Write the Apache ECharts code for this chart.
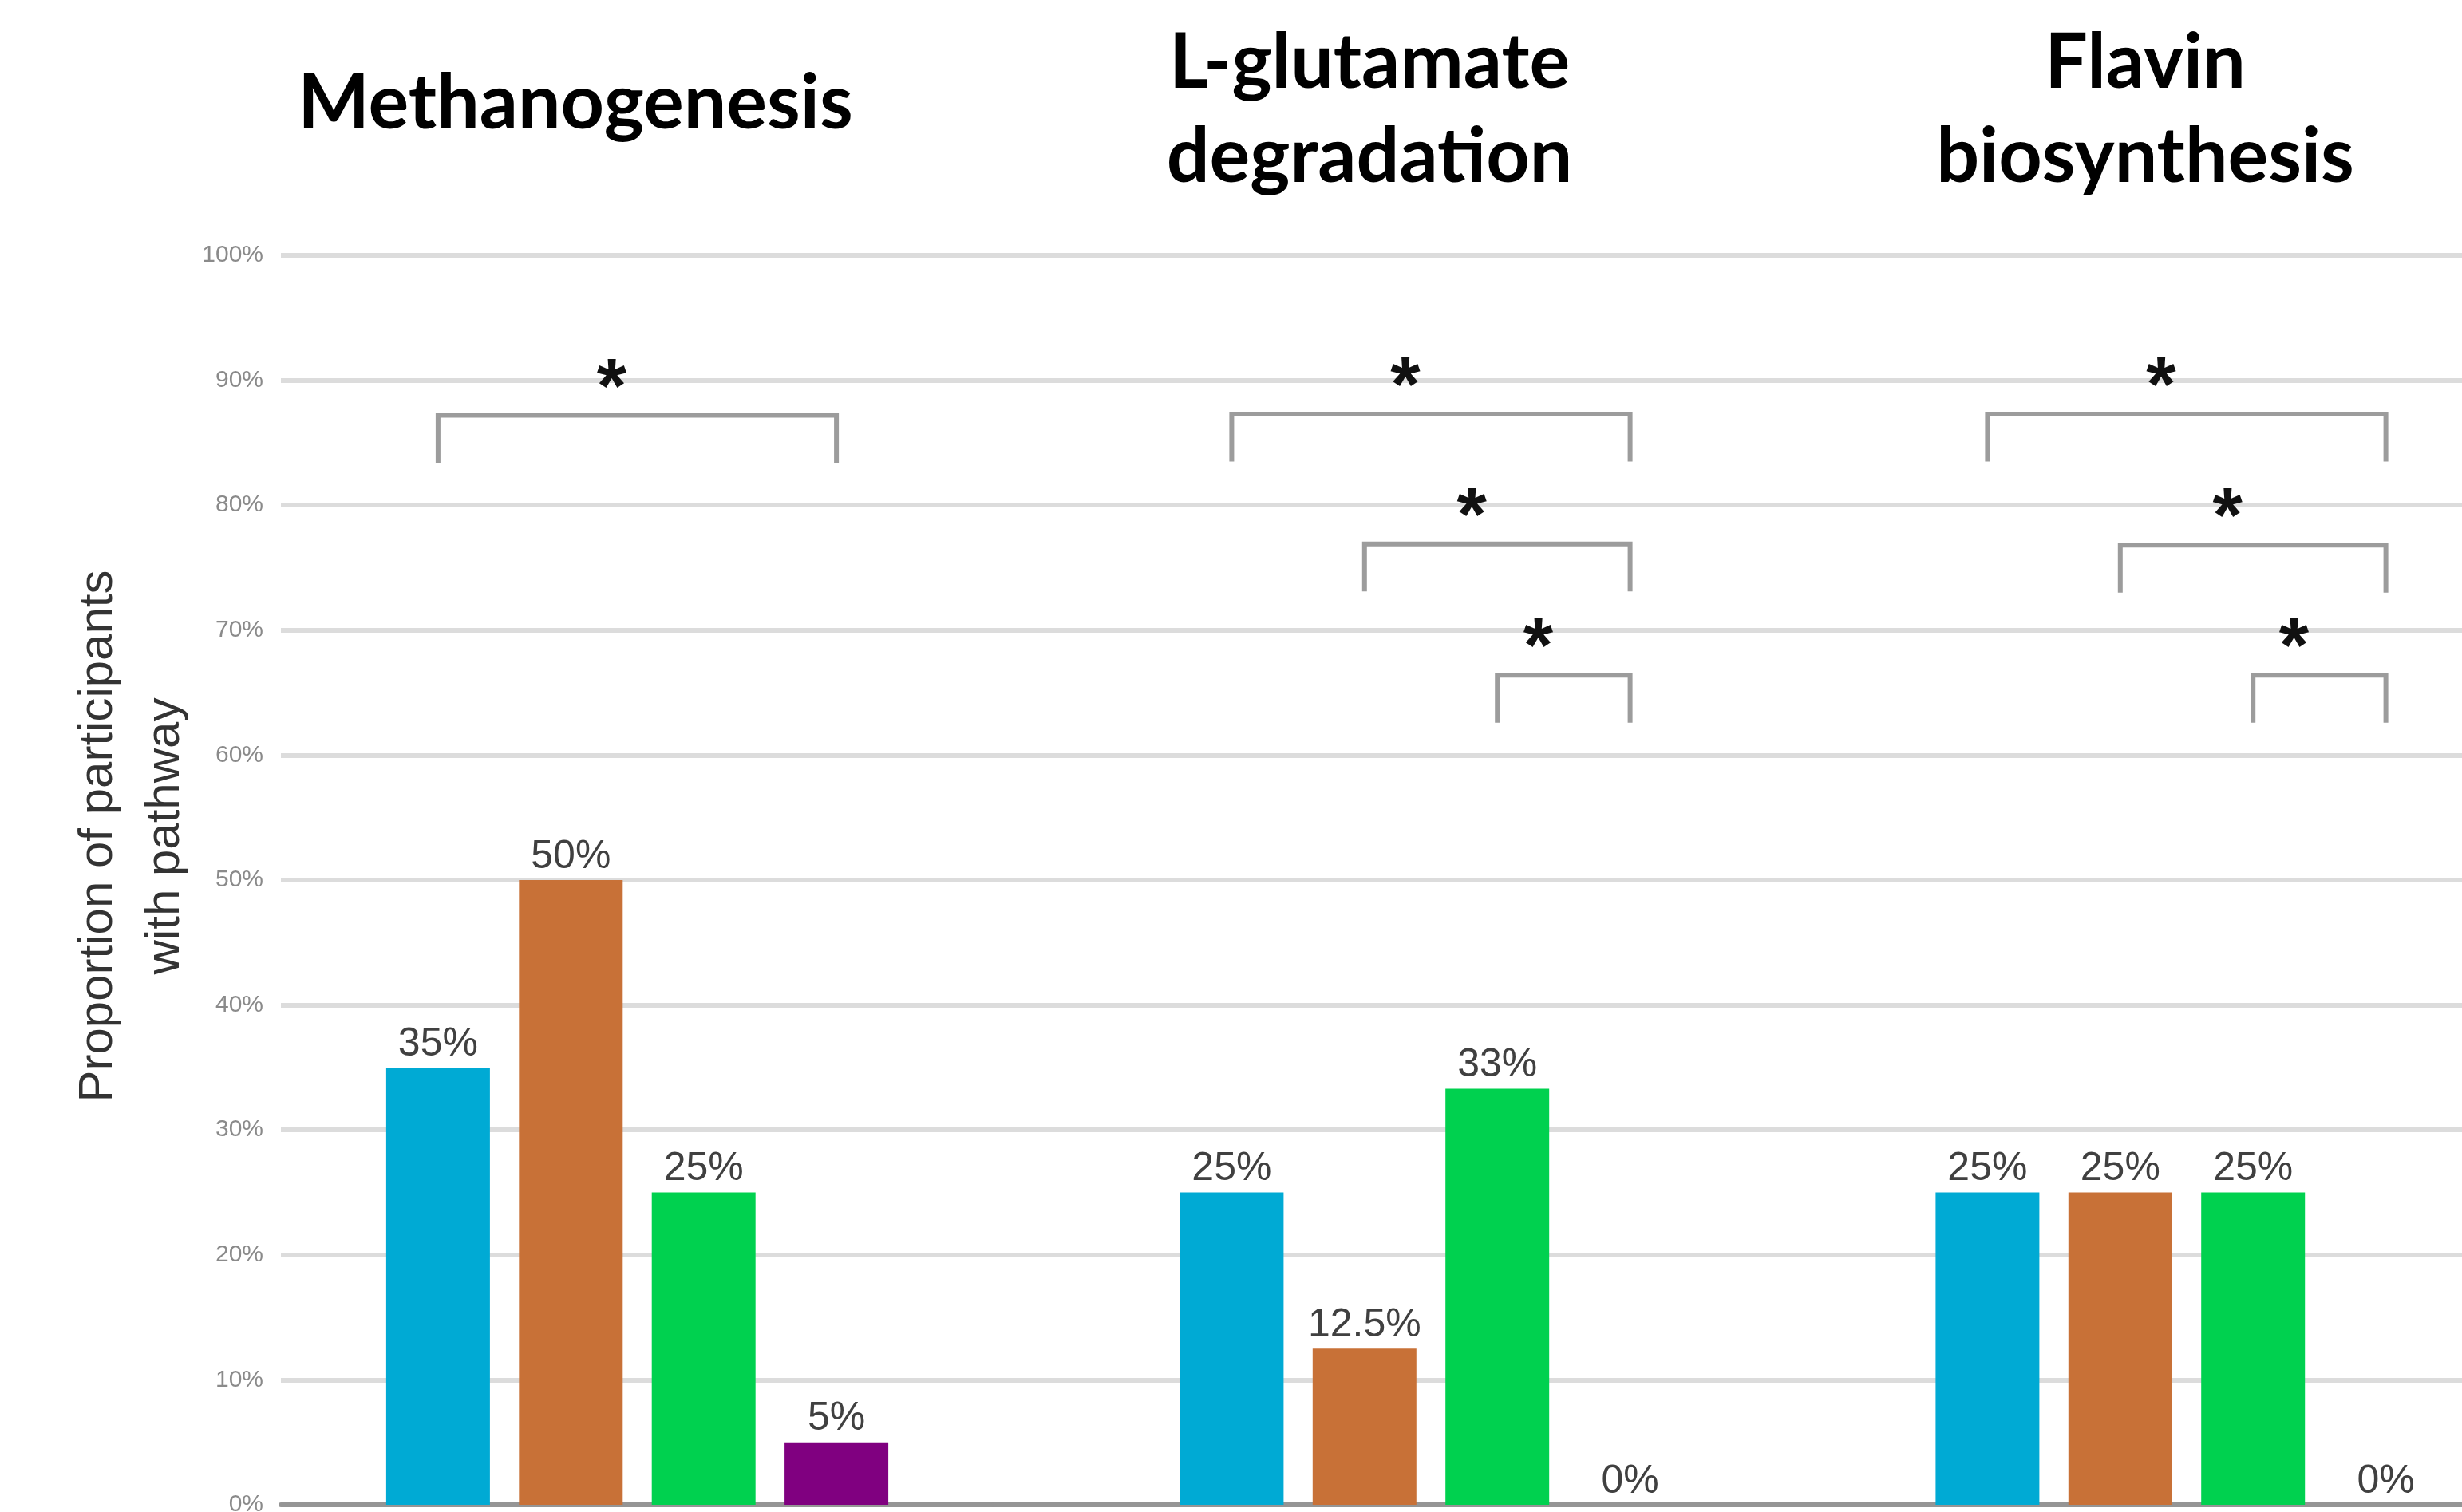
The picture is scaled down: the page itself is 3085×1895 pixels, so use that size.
<!DOCTYPE html>
<html>
<head>
<meta charset="utf-8">
<title>Pathway proportions</title>
<script src="https://cdn.jsdelivr.net/npm/echarts@6/dist/echarts.min.js"></script>
<style>
html,body{margin:0;padding:0;background:#fff;}
#chart{width:3085px;height:1895px;}
</style>
</head>
<body>
<div id="chart"></div>
<script>
// pathways (one panel each)
const categories = ['Methanogenesis', 'L-glutamate\ndegradation', 'Flavin\nbiosynthesis']
const seriesNames = ['Group 1', 'Group 2', 'Group 3', 'Group 4']
// percent of participants, one list per bar colour, one value per pathway
const blueValues = [35, 25, 25]
const orangeValues = [50, 12.5, 25]
const greenValues = [25, 33.3, 25]
const purpleValues = [5, 0, 0]
const yTicks = [0, 10, 20, 30, 40, 50, 60, 70, 80, 90, 100]

// significance brackets: pathway, first bar, last bar, height (%)
const bracketPathway = [0, 1, 1, 1, 2, 2, 2]
const bracketFrom = [0, 0, 1, 2, 0, 1, 2]
const bracketTo = [3, 3, 3, 3, 3, 3, 3]
const bracketTop = [87.2, 87.3, 76.9, 66.4, 87.3, 76.8, 66.4]

const colors = ['#00aad4', '#c87137', '#00d14f', '#800080']
const barWidth = 130
const barGap = 0.28
const legDrop = 3.8   // bracket legs, in %
const starLift = 2.0  // star above bracket, in %

// panels are not evenly spaced in the picture, so one grid per pathway
const gridLeft = [352, 1245, 2341]
const gridWidth = [893, 1096, 798]
const titleX = [721, 1716, 2688]
const titleTop = [71, 20, 20]

const allValues = [blueValues, orangeValues, greenValues, purpleValues]

function renderBracket(params, api){
	const cx = api.coord([0, 0])[0]
	const step = barWidth * (1 + barGap)
	const xa = cx + (api.value(1) - 1.5) * step
	const xb = cx + (api.value(2) - 1.5) * step
	const top = api.value(3)
	const yTop = api.coord([0, top])[1]
	const yLeg = api.coord([0, top - legDrop])[1]
	const yStar = api.coord([0, top + starLift])[1]
	return {
		type: 'group',
		children: [
			{
				type: 'polyline',
				shape: { points: [[xa, yLeg], [xa, yTop], [xb, yTop], [xb, yLeg]] },
				style: { stroke: '#9c9c9c', lineWidth: 6, fill: null }
			},
			{
				type: 'text',
				x: (xa + xb) / 2 - 32,
				y: yStar,
				style: {
					text: '*',
					fill: '#111',
					fontSize: 96,
					fontWeight: 'bold',
					fontFamily: 'Liberation Sans',
					align: 'center',
					verticalAlign: 'middle'
				}
			}
		]
	}
}

// halves are shown as they are (12.5%), anything else rounded (33%)
function pctLabel(params){
	const v = params.value
	return (Number.isInteger(v * 2) ? v : Math.round(v)) + '%'
}

let grids = [], xAxes = [], yAxes = [], series = [], titles = []
categories.forEach((cat, g) => {
	grids.push({
		left: gridLeft[g],
		width: gridWidth[g],
		top: 320,
		bottom: 9,
		outerBoundsMode: 'none'
	})
	xAxes.push({
		type: 'category',
		gridIndex: g,
		data: [cat],
		axisLabel: { show: false },
		axisTick: { show: false },
		axisLine: { lineStyle: { color: '#959595', width: 6 } }
	})
	yAxes.push({
		type: 'value',
		gridIndex: g,
		min: yTicks[0],
		max: yTicks[yTicks.length - 1],
		interval: yTicks[1] - yTicks[0],
		axisLine: { show: false },
		axisTick: { show: false },
		splitLine: { lineStyle: { color: '#dcdcdc', width: 6 } },
		axisLabel: {
			show: g === 0,
			formatter: '{value}%',
			color: '#8a8a8a',
			fontSize: 30,
			margin: 22
		},
		name: g === 0 ? 'Proportion of participants\nwith pathway' : '',
		nameLocation: 'middle',
		nameGap: 103,
		nameTextStyle: {
			color: '#333',
			fontSize: 60,
			lineHeight: 84,
			padding: [0, 0, 0, 110]
		}
	})
	allValues.forEach((vals, s) => {
		series.push({
			name: seriesNames[s],
			type: 'bar',
			xAxisIndex: g,
			yAxisIndex: g,
			barWidth: barWidth,
			barGap: (barGap * 100) + '%',
			data: [vals[g]],
			itemStyle: { color: colors[s] },
			label: {
				show: true,
				position: 'top',
				distance: 4,
				formatter: pctLabel,
				color: '#404040',
				fontSize: 50
			}
		})
	})
	let bracketData = []
	bracketPathway.forEach((p, i) => {
		if(p === g)
			bracketData.push([0, bracketFrom[i], bracketTo[i], bracketTop[i]])
	})
	series.push({
		type: 'custom',
		xAxisIndex: g,
		yAxisIndex: g,
		renderItem: renderBracket,
		encode: { x: 0, y: 3 },
		data: bracketData,
		clip: false,
		z: 5
	})
	titles.push({
		text: cat,
		left: titleX[g],
		top: titleTop[g],
		textAlign: 'center',
		padding: 0,
		textStyle: {
			fontFamily: 'Lato',
			fontWeight: 'bold',
			fontSize: 95,
			lineHeight: 118,
			color: '#000'
		}
	})
})

let option = {
	animation: false,
	backgroundColor: '#fff',
	textStyle: { fontFamily: 'Liberation Sans' },
	title: titles,
	grid: grids,
	xAxis: xAxes,
	yAxis: yAxes,
	series: series
}
let myChart = echarts.init(document.getElementById('chart'))
myChart.setOption(option)
</script>
</body>
</html>
